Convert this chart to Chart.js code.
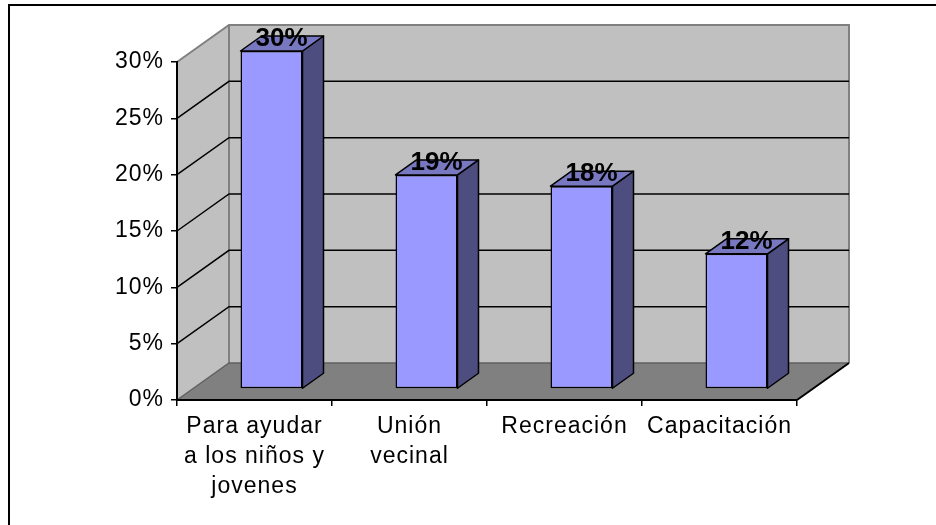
<!DOCTYPE html>
<html>
<head>
<meta charset="utf-8">
<script src="https://cdn.jsdelivr.net/npm/chart.js@4/dist/chart.umd.min.js"></script>
<style>
html,body{margin:0;padding:0;background:#fff}
canvas{display:block}
</style>
</head>
<body>
<canvas id="grafico" width="936" height="525"></canvas>
<script>
const categorias = [['Para ayudar','a los niños y','jovenes'], ['Unión','vecinal'], 'Recreación', 'Capacitación']
const valores = [0.30, 0.19, 0.18, 0.12]
const marcasY = [0, 0.05, 0.10, 0.15, 0.20, 0.25, 0.30]

// profundidad de la caja 3D y de las barras
const PROF = {dx:52, dy:-37}
const BARRA = {dx:17, dy:-11, px:21, py:-15}
const fuente = "'Liberation Sans', Arial, sans-serif"

const fondo3d = {
  id:'fondo3d',
  beforeDraw(chart){
    const ctx = chart.ctx
    const x = chart.scales.x, y = chart.scales.y
    const iz = x.left, de = x.right, ab = y.getPixelForValue(0), ar = y.getPixelForValue(0.30)
    ctx.save()
    // marco exterior
    ctx.strokeStyle = '#000'
    ctx.lineWidth = 2
    ctx.strokeRect(9, 5, 1000, 1000)
    // pared izquierda
    ctx.fillStyle = '#c0c0c0'
    ctx.beginPath()
    ctx.moveTo(iz, ab); ctx.lineTo(iz, ar); ctx.lineTo(iz+PROF.dx, ar+PROF.dy); ctx.lineTo(iz+PROF.dx, ab+PROF.dy); ctx.closePath()
    ctx.fill()
    // pared del fondo
    ctx.fillRect(iz+PROF.dx, ar+PROF.dy, de-iz, ab-ar)
    // piso
    ctx.fillStyle = '#808080'
    ctx.beginPath()
    ctx.moveTo(iz, ab); ctx.lineTo(de, ab); ctx.lineTo(de+PROF.dx, ab+PROF.dy); ctx.lineTo(iz+PROF.dx, ab+PROF.dy); ctx.closePath()
    ctx.fill()
    // bordes grises de las paredes
    ctx.strokeStyle = '#808080'
    ctx.lineWidth = 2
    ctx.beginPath()
    ctx.moveTo(iz, ar); ctx.lineTo(iz+PROF.dx, ar+PROF.dy); ctx.lineTo(de+PROF.dx, ar+PROF.dy); ctx.lineTo(de+PROF.dx, ab+PROF.dy)
    ctx.moveTo(iz+PROF.dx, ar+PROF.dy); ctx.lineTo(iz+PROF.dx, ab+PROF.dy)
    ctx.stroke()
    ctx.strokeStyle = '#606060'
    ctx.lineWidth = 1.5
    ctx.beginPath()
    ctx.moveTo(iz, ab); ctx.lineTo(iz+PROF.dx, ab+PROF.dy); ctx.lineTo(de+PROF.dx, ab+PROF.dy)
    ctx.stroke()
    // borde derecho del piso
    ctx.strokeStyle = '#000'
    ctx.lineWidth = 2
    ctx.beginPath()
    ctx.moveTo(de, ab); ctx.lineTo(de+PROF.dx, ab+PROF.dy)
    ctx.stroke()
    // lineas de division
    ctx.lineWidth = 1.5
    ctx.beginPath()
    marcasY.forEach(v=>{
      if(v===0 || v===0.30) return
      const py = y.getPixelForValue(v)
      ctx.moveTo(iz, py); ctx.lineTo(iz+PROF.dx, py+PROF.dy); ctx.lineTo(de+PROF.dx, py+PROF.dy)
    })
    ctx.stroke()
    ctx.restore()
    // el texto del original va algo espaciado
    ctx.letterSpacing = '1px'
  },
  afterDraw(chart){
    chart.ctx.letterSpacing = '0px'
  }
}

const barras3d = {
  id:'barras3d',
  beforeDatasetsDraw(chart){
    chart.ctx.save()
    chart.ctx.translate(BARRA.dx, BARRA.dy)
  },
  afterDatasetsDraw(chart){
    const ctx = chart.ctx
    const meta = chart.getDatasetMeta(0)
    ctx.lineWidth = 1.5
    ctx.strokeStyle = '#000'
    ctx.lineJoin = 'round'
    meta.data.forEach(b=>{
      const {x, y, base, width} = b.getProps(['x','y','base','width'], true)
      const l = x - width/2, r = x + width/2
      // cara lateral
      ctx.fillStyle = '#4d4d80'
      ctx.beginPath()
      ctx.moveTo(r, y); ctx.lineTo(r+BARRA.px, y+BARRA.py); ctx.lineTo(r+BARRA.px, base+BARRA.py); ctx.lineTo(r, base); ctx.closePath()
      ctx.fill(); ctx.stroke()
      // cara superior
      ctx.fillStyle = '#7878c0'
      ctx.beginPath()
      ctx.moveTo(l, y); ctx.lineTo(l+BARRA.px, y+BARRA.py); ctx.lineTo(r+BARRA.px, y+BARRA.py); ctx.lineTo(r, y); ctx.closePath()
      ctx.fill(); ctx.stroke()
    })
    ctx.restore()
    // etiquetas de datos
    ctx.save()
    ctx.letterSpacing = '0px'
    ctx.fillStyle = '#000'
    ctx.font = 'bold 26px ' + fuente
    ctx.textAlign = 'center'
    ctx.textBaseline = 'alphabetic'
    meta.data.forEach((b,i)=>{
      const {x, y} = b.getProps(['x','y'], true)
      ctx.fillText(Math.round(valores[i]*100)+'%', x + BARRA.dx + 10, y + BARRA.dy - 5)
    })
    ctx.restore()
  }
}

new Chart(document.getElementById('grafico'), {
  type:'bar',
  data:{
    labels:categorias,
    datasets:[{
      data:valores,
      backgroundColor:'#9999ff',
      borderColor:'#000',
      borderWidth:1.5,
      borderSkipped:false,
      barPercentage:0.4,
      categoryPercentage:1
    }]
  },
  options:{
    responsive:false,
    animation:false,
    events:[],
    layout:{padding:{top:62, right:139, left:0, bottom:0}},
    plugins:{legend:{display:false}, tooltip:{enabled:false}},
    scales:{
      x:{
        afterFit:s=>{s.height = 125},
        grid:{display:true, drawOnChartArea:false, offset:true, tickLength:6, color:'#000', lineWidth:1.5},
        border:{display:true, color:'#000', width:2},
        ticks:{color:'#000', padding:5, maxRotation:0, autoSkip:false, font:{family:fuente, size:23, lineHeight:1.32}}
      },
      y:{
        min:0, max:0.30,
        afterFit:s=>{s.width = 177},
        afterBuildTicks:s=>{s.ticks = marcasY.map(v=>({value:v}))},
        grid:{display:true, drawOnChartArea:false, tickLength:6, color:'#000', lineWidth:1.5},
        border:{display:true, color:'#000', width:2},
        ticks:{color:'#000', padding:7, font:{family:fuente, size:23}, callback:v=>Math.round(v*100)+'%'}
      }
    }
  },
  plugins:[fondo3d, barras3d]
})
</script>
</body>
</html>
